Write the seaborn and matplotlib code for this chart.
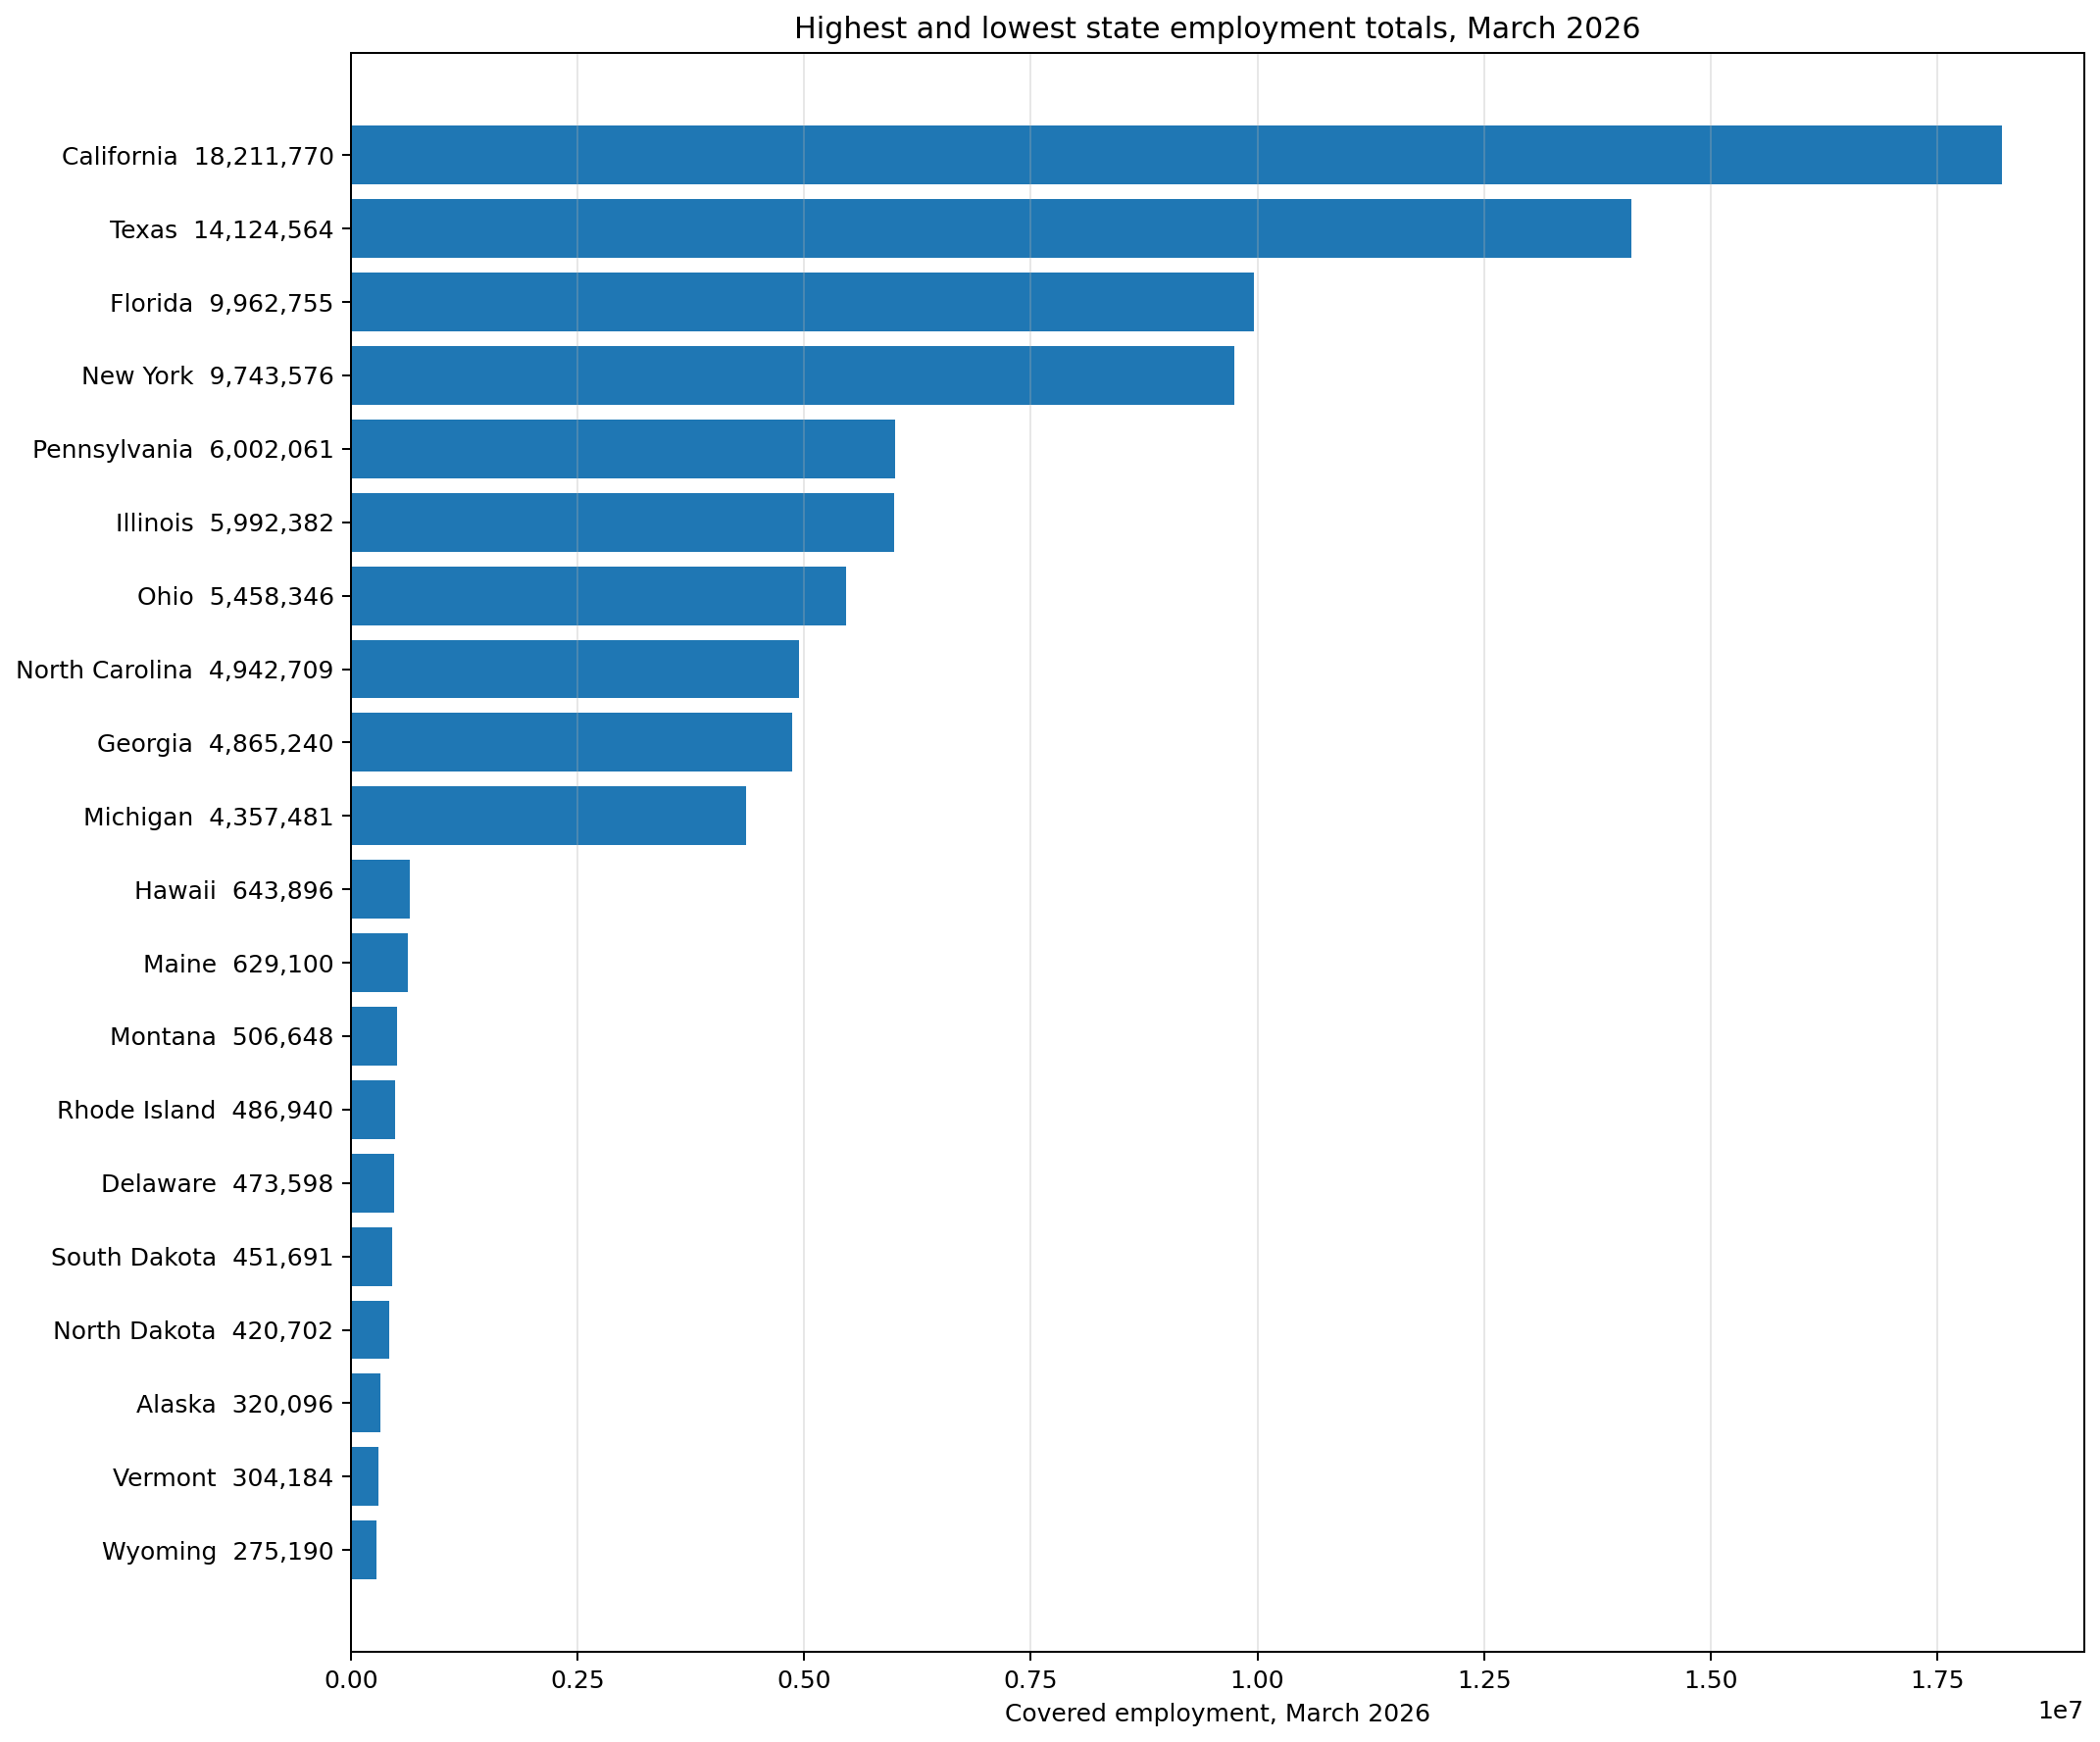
import matplotlib
matplotlib.use("Agg")
import matplotlib.pyplot as plt
import seaborn as sns
import pandas as pd

states = ["California", "Texas", "Florida", "New York", "Pennsylvania", "Illinois",
          "Ohio", "North Carolina", "Georgia", "Michigan", "Hawaii", "Maine",
          "Montana", "Rhode Island", "Delaware", "South Dakota", "North Dakota",
          "Alaska", "Vermont", "Wyoming"]
employment = [18211770, 14124564, 9962755, 9743576, 6002061, 5992382,
              5458346, 4942709, 4865240, 4357481, 643896, 629100,
              506648, 486940, 473598, 451691, 420702,
              320096, 304184, 275190]

labels = [f"{s}  {v:,}" for s, v in zip(states, employment)]
df = pd.DataFrame({"label": labels, "employment": employment})

plt.style.use("default")
plt.rcParams['font.family'] = ['DejaVu Sans']

DPI = 180
fig, ax = plt.subplots(figsize=(2142/DPI, 1777/DPI), dpi=DPI)
sns.barplot(data=df, y="label", x="employment", orient="h", color="#1f77b4",
            saturation=1, width=0.8, ax=ax, errorbar=None)
n = len(states)
pad = 0.05 * (n - 1 + 0.8)
ax.set_ylim(n - 1 + 0.4 + pad, -0.4 - pad)
ax.set_xlim(0, max(employment) * 1.05)
ax.grid(axis="x", alpha=0.3)
ax.grid(axis="y", visible=False)
ax.set_ylabel("")
ax.set_xlabel("Covered employment, March 2026")
ax.set_title("Highest and lowest state employment totals, March 2026")
fig.tight_layout(pad=0.65)
fig.savefig("out.png", dpi=DPI)
